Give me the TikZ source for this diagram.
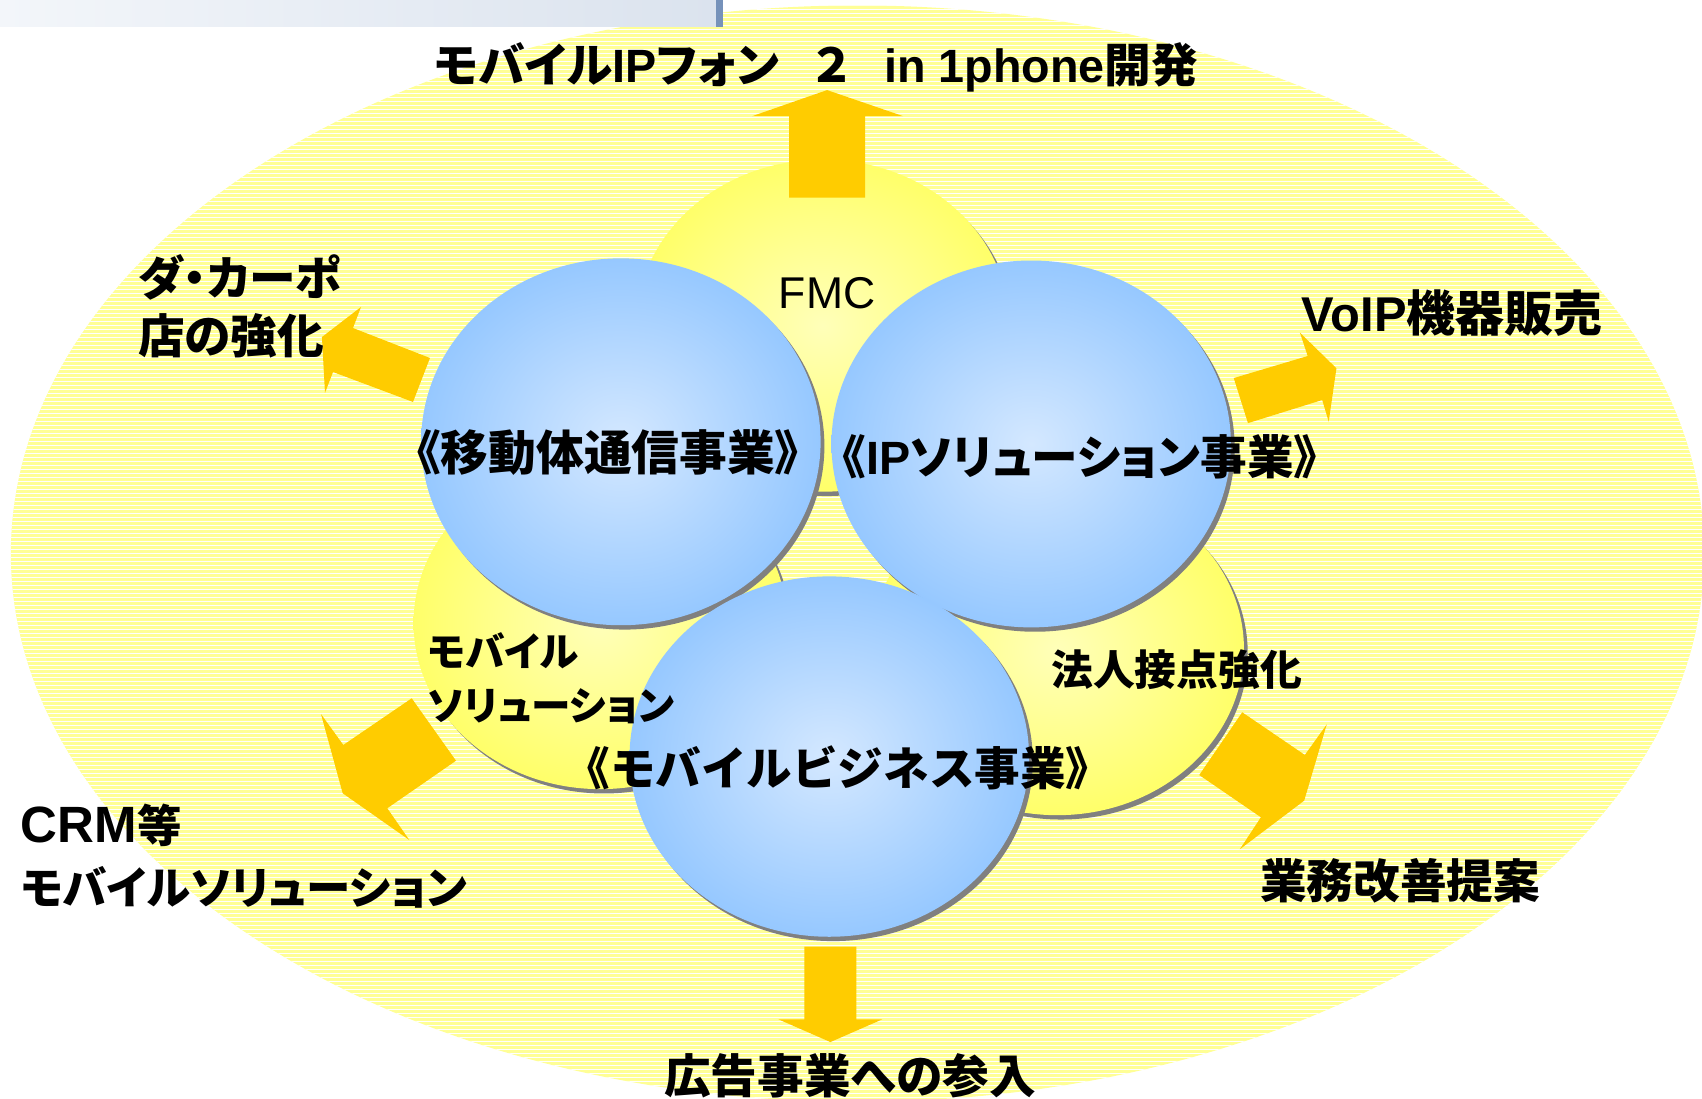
\documentclass[tikz,border=0pt]{standalone}
\usepackage{fontspec}
\setmainfont{Noto Sans CJK JP}[RawFeature=+palt]
\newfontfamily\jpfull{Noto Sans CJK JP}
\newfontfamily\lat{Liberation Sans}
\definecolor{bgyel}{RGB}{255,255,150}
\definecolor{gold}{RGB}{255,204,0}
\definecolor{bluein}{RGB}{212,232,255}
\definecolor{blueout}{RGB}{150,200,255}
\definecolor{yelin}{RGB}{255,255,185}
\definecolor{yelout}{RGB}{255,255,105}
\definecolor{shad}{RGB}{128,128,128}
\definecolor{titleL}{RGB}{243,246,250}
\definecolor{titleR}{RGB}{219,227,238}
\definecolor{titlebar}{RGB}{118,146,186}
\tikzset{
  blockarrow/.style={fill=gold},
  shadowell/.style={fill=shad},
  yelball/.style={inner color=yelin, outer color=yelout},
  bluball/.style={inner color=bluein, outer color=blueout},
  bigtxt/.style={font=\bfseries\fontsize{43}{53}\selectfont, inner sep=0pt, align=left},
  midtxt/.style={font=\bfseries\fontsize{43}{50}\selectfont, inner sep=0pt, align=left},
  smalltxt/.style={font=\bfseries\fontsize{36.5}{50}\selectfont, inner sep=0pt, align=left}
}
\begin{document}
\begin{tikzpicture}[x=1pt,y=-1pt]
\useasboundingbox (0,0) rectangle (1568,1012);
% background striped ellipse
\begin{scope}
  \clip (0,0) rectangle (1568,1012);
  \fill[bgyel] (790,510) ellipse [x radius=780, y radius=505];
  \begin{scope}
    \clip (790,510) ellipse [x radius=780, y radius=505];
    \foreach \k in {0,...,275}
      \draw[white, line width=0.9pt] (0,{\k*3.685+1.5}) -- (1568,{\k*3.685+1.5});
  \end{scope}
\end{scope}
% title bar (cut off)
\shade[left color=titleL, right color=titleR] (0,0) rectangle (660,24.6);
\fill[titlebar] (660,0) rectangle (665.7,24.6);
% yellow balls
\fill[shadowell] (761.5,304) ellipse [x radius=172, y radius=153];
\shade[yelball] (758,300) ellipse [x radius=172, y radius=153];
\fill[shadowell] (556.5,578) ellipse [x radius=172, y radius=153];
\shade[yelball] (553,574) ellipse [x radius=172, y radius=153];
\fill[shadowell] (977.5,602) ellipse [x radius=172, y radius=153];
\shade[yelball] (974,598) ellipse [x radius=172, y radius=153];
% block arrows
\fill[blockarrow] (727,182) -- (727,107) -- (693,107) -- (762,83) -- (832,107) -- (797,107) -- (797,182) -- cycle;
\fill[blockarrow] (741,872) -- (789,872) -- (789,939) -- (813,939) -- (765,960) -- (717,939) -- (741,939) -- cycle;
\fill[blockarrow] (396.1,329.8) -- (325.2,302.2) -- (332.6,282.8) -- (296.6,310.5) -- (299.4,362.0) -- (306.8,342.7) -- (380.5,370.3) -- cycle;
\fill[blockarrow] (1136.6,348.3) -- (1204.7,328) -- (1197.6,306.5) -- (1231.2,339.3) -- (1224.1,388.5) -- (1218.1,368.5) -- (1149.7,389.8) -- cycle;
\fill[blockarrow] (379.3,643.3) -- (316.3,686.3) -- (295.7,657.8) -- (315.7,730.8) -- (377.1,773.9) -- (356.8,744.6) -- (420.1,700.8) -- cycle;
\fill[blockarrow] (1144.4,656.2) -- (1202.1,695.5) -- (1222.3,667.3) -- (1201.5,737.6) -- (1142.2,782.4) -- (1161.6,752.9) -- (1104.8,714.0) -- cycle;
% blue balls
\fill[shadowell] (575.5,411) ellipse [x radius=184, y radius=169];
\shade[bluball] (572,407) ellipse [x radius=184, y radius=169];
\fill[shadowell] (953.5,413) ellipse [x radius=184, y radius=169];
\shade[bluball] (950,409) ellipse [x radius=184, y radius=169];
\fill[shadowell] (767.5,701) ellipse [x radius=184, y radius=166];
\shade[bluball] (764,697) ellipse [x radius=184, y radius=166];
% texts
\node[bigtxt, anchor=west] (top) at (400,62) {モバイル{\lat IP}フォン\hspace{0.75em}２\hspace{0.75em}{\lat in 1phone}開発};
\node[bigtxt, anchor=west] (dacapo) at (127,282) {ダ・カーポ\\店の強化};
\node[font=\bfseries\fontsize{45}{53}\selectfont, inner sep=0pt, anchor=west] (voip) at (1199,288) {{\lat VoIP}機器販売};
\node[font=\lat\fontsize{41}{50}\selectfont, inner sep=0pt] (fmc) at (762,270) {FMC};
\node[font=\bfseries\fontsize{44}{50}\selectfont, inner sep=0pt] (idou) at (560,417) {《移動体通信事業》};
\node[midtxt] (ipsol) at (995,421) {《{\lat IP}ソリューション事業》};
\node[smalltxt, anchor=west] (mobsol) at (394,625) {モバイル\\ソリューション};
\node[font=\bfseries\fontsize{38.5}{45}\selectfont, inner sep=0pt] (houjin) at (1084,617) {法人接点強化};
\node[font=\jpfull\bfseries\fontsize{42}{50}\selectfont, inner sep=0pt] (mobbiz) at (772,707) {《モバイルビジネス事業》};
\node[font=\bfseries\fontsize{41}{57}\selectfont, inner sep=0pt, align=left, anchor=west] (crm) at (19,789) {{\lat\fontsize{47}{57}\selectfont CRM}等\\モバイルソリューション};
\node[bigtxt] (gyomu) at (1290,811) {業務改善提案};
\node[bigtxt] (koukoku) at (783,991) {広告事業への参入};
\end{tikzpicture}
\end{document}
